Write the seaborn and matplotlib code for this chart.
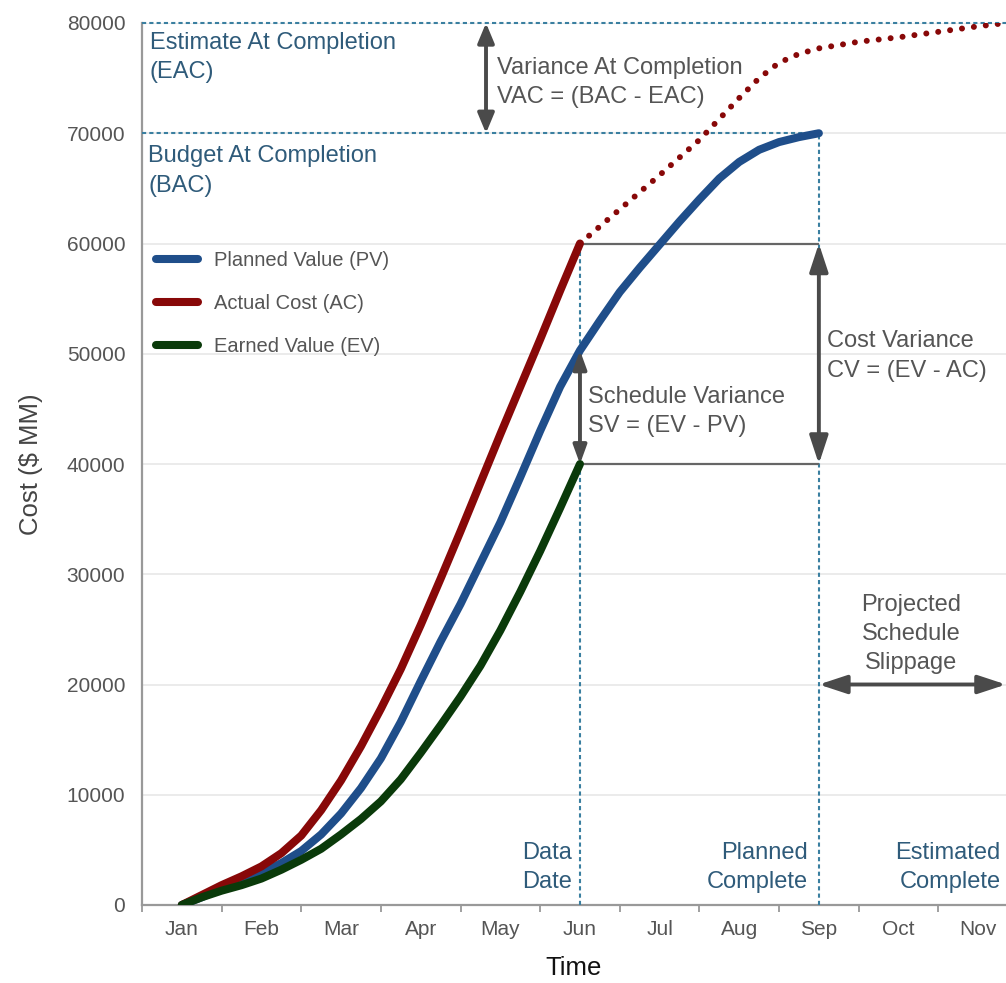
import numpy as np
import pandas as pd
import matplotlib
matplotlib.use("Agg")
import matplotlib.pyplot as plt
import seaborn as sns

# months on the x axis, each month is one unit wide, labels sit in the middle
months = ["Jan", "Feb", "Mar", "Apr", "May", "Jun", "Jul", "Aug", "Sep", "Oct", "Nov"]

# Planned Value (PV), read every quarter month
pv_t = [0.5, 0.75, 1.0, 1.25, 1.5, 1.75, 2.0, 2.25, 2.5, 2.75, 3.0, 3.25, 3.5, 3.75, 4.0, 4.25,
        4.5, 4.75, 5.0, 5.25, 5.5, 5.75, 6.0, 6.25, 6.5, 6.75, 7.0, 7.25, 7.5, 7.75, 8.0, 8.25, 8.5]
pv_v = [0, 700, 1500, 2200, 2900, 3800, 4900, 6400, 8300, 10600, 13300, 16600, 20300, 23900, 27300, 31000,
        34700, 38800, 43000, 47000, 50300, 53000, 55600, 57800, 59900, 62000, 64000, 65900, 67400, 68500, 69200, 69650, 70000]

# Actual Cost (AC)
ac_t = [0.5, 0.75, 1.0, 1.25, 1.5, 1.75, 2.0, 2.25, 2.5, 2.75, 3.0, 3.25, 3.5, 3.75, 4.0, 4.25,
        4.5, 4.75, 5.0, 5.25, 5.5]
ac_v = [0, 900, 1800, 2600, 3500, 4700, 6300, 8600, 11300, 14400, 17800, 21400, 25400, 29600, 33900, 38300,
        42700, 47000, 51300, 55700, 60000]

# Earned Value (EV)
ev_t = [0.5, 0.75, 1.0, 1.25, 1.5, 1.75, 2.0, 2.25, 2.5, 2.75, 3.0, 3.25, 3.5, 3.75, 4.0, 4.25,
        4.5, 4.75, 5.0, 5.25, 5.5]
ev_v = [0, 700, 1300, 1800, 2400, 3200, 4100, 5100, 6400, 7800, 9400, 11400, 13800, 16300, 18900, 21700,
        24900, 28400, 32100, 36000, 40000]

# projected actual cost (dotted)
eac_t = [5.5, 6.0, 6.5, 7.0, 7.5, 7.75, 8.0, 8.25, 8.5, 9.0, 9.5, 10.0, 10.5, 10.85]
eac_v = [60000, 63100, 66200, 69400, 73200, 75000, 76400, 77200, 77700, 78300, 78700, 79200, 79700, 80000]

data_date = 5.5
planned_complete = 8.5
estimated_complete = 10.85
bac = 70000
eac = 80000
vac_x = 4.32
slip_y = 20000

names = ["Planned Value (PV)", "Actual Cost (AC)", "Earned Value (EV)"]
colors = {"Planned Value (PV)": "#1f4e8a", "Actual Cost (AC)": "#880808", "Earned Value (EV)": "#0a3a0a"}
teal = "#3a7fa0"
teal_text = "#2f5b7a"
grey_text = "#555555"
arrow_col = "#4a4a4a"

sns.set_theme(style="whitegrid")
plt.rcParams['font.family'] = ['Liberation Sans', 'DejaVu Sans']

df = pd.concat([
    pd.DataFrame({"month": pv_t, "cost": pv_v, "series": names[0]}),
    pd.DataFrame({"month": ac_t, "cost": ac_v, "series": names[1]}),
    pd.DataFrame({"month": ev_t, "cost": ev_v, "series": names[2]}),
])

fig = plt.figure(figsize=(10.06, 9.83), dpi=100)
ax = fig.add_axes([142/1006, 78/983, 864/1006, 882/983])

# dashed reference lines
dash = (0, (2, 1.5))
ax.hlines(eac, 0, estimated_complete, color=teal, lw=1.5, linestyle=dash, clip_on=False, zorder=3)
ax.hlines(bac, 0, planned_complete, color=teal, lw=1.5, linestyle=dash, zorder=3)
ax.vlines(data_date, 0, ac_v[-1], color=teal, lw=1.5, linestyle=dash, zorder=3)
ax.vlines(planned_complete, 0, bac, color=teal, lw=1.5, linestyle=dash, zorder=3)

# variance box
ax.hlines([ev_v[-1], ac_v[-1]], data_date, planned_complete, color="#666666", lw=1.6, zorder=3)

sns.lineplot(data=df, x="month", y="cost", hue="series", hue_order=names, palette=colors,
             linewidth=5.8, sort=False, estimator=None, ax=ax, zorder=4)
for line in ax.lines:
    line.set_solid_capstyle("round")
    line.set_solid_joinstyle("round")

ax.plot(eac_t, eac_v, color=colors[names[1]], lw=4.3,
        linestyle=(0, (0.01, 2.0)), dash_capstyle="round", zorder=4)

# arrows
def dbl_arrow(p0, p1, hl, hw):
    ax.annotate("", xy=p1, xytext=p0, zorder=5, annotation_clip=False,
                arrowprops=dict(arrowstyle=f"<|-|>,head_length={hl},head_width={hw}",
                                color=arrow_col, lw=2.8, shrinkA=0, shrinkB=0,
                                mutation_scale=20))

dbl_arrow((planned_complete, ev_v[-1]), (planned_complete, ac_v[-1]), 0.85, 0.28)
dbl_arrow((data_date, ev_v[-1]), (data_date, pv_v[pv_t.index(data_date)]), 0.55, 0.2)
dbl_arrow((vac_x, bac), (vac_x, eac), 0.6, 0.25)
dbl_arrow((planned_complete, slip_y), (estimated_complete, slip_y), 0.85, 0.28)

# labels
fs = 17
ls = 1.42
ax.text(0.1, 79200, "Estimate At Completion\n(EAC)", color=teal_text, fontsize=fs, va="top", ha="left", linespacing=ls)
ax.text(0.08, 68900, "Budget At Completion\n(BAC)", color=teal_text, fontsize=fs, va="top", ha="left", linespacing=ls)
ax.text(4.46, 74600, "Variance At Completion\nVAC = (BAC - EAC)", color=grey_text, fontsize=fs, va="center", ha="left", linespacing=ls)
ax.text(5.6, 44800, "Schedule Variance\nSV = (EV - PV)", color=grey_text, fontsize=fs, va="center", ha="left", linespacing=ls)
ax.text(8.6, 49800, "Cost Variance\nCV = (EV - AC)", color=grey_text, fontsize=fs, va="center", ha="left", linespacing=ls)
ax.text(9.66, 24600, "Projected\nSchedule\nSlippage", color=grey_text, fontsize=fs, va="center", ha="center", linespacing=ls)
ax.text(5.4, 3400, "Data\nDate", color=teal_text, fontsize=fs, va="center", ha="right", linespacing=ls)
ax.text(8.36, 3400, "Planned\nComplete", color=teal_text, fontsize=fs, va="center", ha="right", linespacing=ls)
ax.text(10.78, 3400, "Estimated\nComplete", color=teal_text, fontsize=fs, va="center", ha="right", linespacing=ls)

# legend
handles, labels = ax.get_legend_handles_labels()
leg = ax.legend(handles, labels, loc="upper left", bbox_to_anchor=(0.016, 0.742), frameon=False,
                fontsize=14.5, handlelength=2.1, handletextpad=0.8, labelspacing=1.2,
                borderpad=0, borderaxespad=0)
for t in leg.get_texts():
    t.set_color(grey_text)
for h in leg.legend_handles:
    h.set_solid_capstyle("round")

# axes
ax.set_xlim(0, estimated_complete)
ax.set_ylim(0, 80000)
ax.set_xticks(np.arange(0, 11))
ax.set_xticklabels([])
ax.set_xticks(np.arange(11) + 0.5, minor=True)
ax.set_xticklabels(months, minor=True)
ax.tick_params(axis="x", which="major", bottom=True, length=5, width=1.3, color="#999999", direction="out")
ax.tick_params(axis="x", which="minor", bottom=True, length=0, pad=11, labelsize=15, labelcolor=grey_text)
ax.set_yticks(np.arange(0, 80001, 10000))
ax.tick_params(axis="y", length=0, pad=12, labelsize=15, labelcolor=grey_text)
ax.xaxis.grid(False)
ax.yaxis.grid(True, color="#e8e8e8", lw=1.2)
ax.set_axisbelow(True)
for s in ["top", "right"]:
    ax.spines[s].set_visible(False)
for s in ["left", "bottom"]:
    ax.spines[s].set_color("#999999")
    ax.spines[s].set_linewidth(1.6)

ax.set_ylabel("Cost ($ MM)", fontsize=18.5, color="#444444")
ax.yaxis.set_label_coords(-0.115, 0.5)
ax.set_xlabel("Time", fontsize=18.5, color="#111111")
ax.xaxis.set_label_coords(0.5, -0.058)

fig.savefig("out.png", dpi=100)
